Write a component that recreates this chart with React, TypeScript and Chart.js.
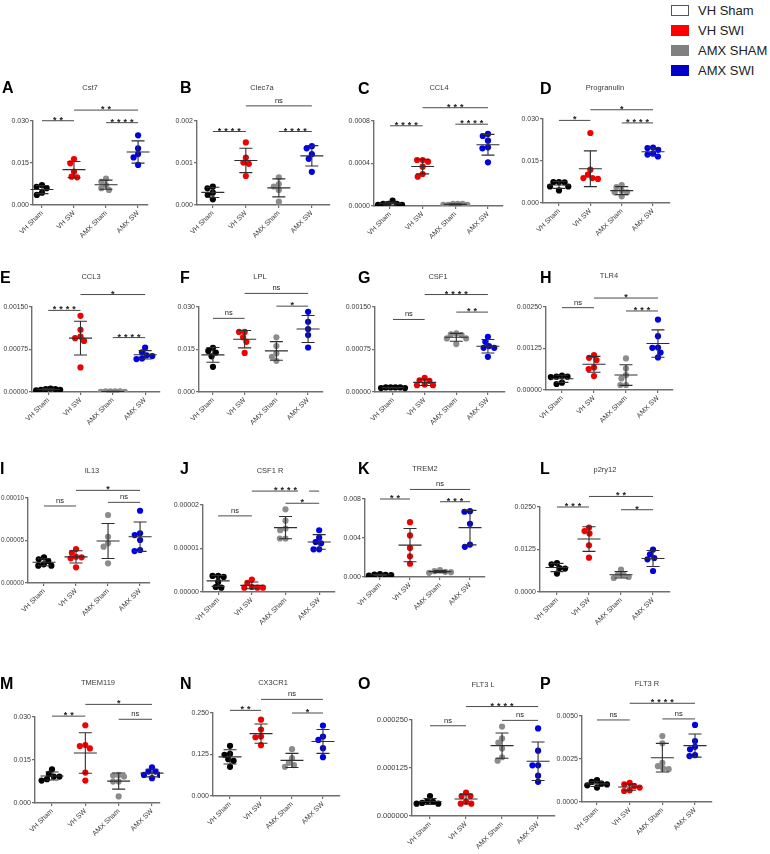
import React, { useEffect, useRef } from "react";
import { Chart, registerables } from "chart.js";
Chart.register(...registerables);

const groups = ["VH Sham", "VH SW", "AMX Sham", "AMX SW"];
const groupColors = ["#000000", "#f20000", "#8c8c8c", "#0000e6"];
const legendLabels = ["VH Sham", "VH SWI", "AMX SHAM", "AMX SWI"];
const legendColors = ["#ffffff", "#ff0000", "#808080", "#0000c8"];

// ---- values (per group: VH Sham, VH SW, AMX Sham, AMX SW) ----
const cst7 = [
  [0.0071, 0.0065, 0.006, 0.0044, 0.0036],
  [0.0164, 0.0149, 0.0119, 0.0101, 0.0099],
  [0.0094, 0.0083, 0.0071, 0.006, 0.0054],
  [0.0249, 0.0202, 0.0182, 0.017, 0.0143],
];
const cst7Ticks = ["0.000", "0.015", "0.030"];
const cst7Sig = [[1, 2, 0.0301, "**"], [2, 4, 0.0339, "**"], [3, 4, 0.0294, "****"]];

const clec7a = [
  [0.000436, 0.000397, 0.000293, 0.000238, 0.000135],
  [0.00149, 0.00113, 0.00101, 0.00098, 0.00069],
  [0.00066, 0.0005, 0.00044, 0.00036, 0.00008],
  [0.0014, 0.00135, 0.00121, 0.0011, 0.00079],
];
const clec7aTicks = ["0.000", "0.001", "0.002"];
const clec7aSig = [[1, 2, 0.00175, "****"], [2, 4, 0.00236, "ns"], [3, 4, 0.00175, "****"]];

const ccl4 = [
  [0.00002, 0.00002, 0.00001, 0.00005, 0.00002, 0.00001],
  [0.000433, 0.000417, 0.000433, 0.00037, 0.000301, 0.000276],
  [0.00002, 0.00001, 0.00002, 0.00001, 0.00002, 0.00001],
  [0.000678, 0.000659, 0.000615, 0.000552, 0.000543, 0.000411],
];
const ccl4Ticks = ["0.0000", "0.0004", "0.0008"];
const ccl4Sig = [[1, 2, 0.000755, "****"], [2, 4, 0.000925, "***"], [3, 4, 0.00077, "****"]];

const progranulin = [
  [0.0074, 0.0075, 0.0075, 0.0059, 0.0059, 0.0045],
  [0.025, 0.0119, 0.0101, 0.0089, 0.0089, 0.0086],
  [0.0057, 0.0064, 0.0038, 0.0038, 0.0044, 0.0024],
  [0.0196, 0.0198, 0.019, 0.0176, 0.0173, 0.0166],
];
const progranulinTicks = ["0.000", "0.015", "0.030"];
const progranulinSig = [[1, 2, 0.0295, "*"], [2, 4, 0.0333, "*"], [3, 4, 0.0286, "****"]];

const ccl3 = [
  [0.00005, 0.00005, 0.00004, 0.00006, 0.00004, 0.00003],
  [0.001345, 0.001097, 0.000978, 0.000949, 0.000901, 0.000434],
  [0.00001, 0.000003, 0.00001, 0.000003, 0.00001, 0.00001],
  [0.000782, 0.0007, 0.000647, 0.000634, 0.000593, 0.000581],
];
const ccl3Ticks = ["0.00000", "0.00075", "0.00150"];
const ccl3Sig = [[1, 2, 0.00144, "****"], [2, 4, 0.00172, "*"], [3, 4, 0.00096, "****"]];

const lpl = [
  [0.0156, 0.0145, 0.0139, 0.0126, 0.0089],
  [0.0212, 0.0212, 0.0193, 0.0177, 0.0138],
  [0.0193, 0.0162, 0.0136, 0.0124, 0.011],
  [0.0283, 0.0248, 0.0222, 0.0201, 0.0157],
];
const lplTicks = ["0.000", "0.015", "0.030"];
const lplSig = [[1, 2, 0.026, "ns"], [2, 4, 0.0348, "ns"], [3, 4, 0.0303, "*"]];

const csf1 = [
  [0.00008, 0.00008, 0.00007, 0.00008, 0.00008, 0.00007],
  [0.000207, 0.000195, 0.000248, 0.000131, 0.000119, 0.000119],
  [0.001017, 0.001004, 0.001034, 0.000946, 0.000946, 0.000845],
  [0.000974, 0.000886, 0.00081, 0.000779, 0.000779, 0.00062],
];
const csf1Ticks = ["0.00000", "0.00075", "0.00150"];
const csf1Sig = [[1, 2, 0.00128, "ns"], [2, 4, 0.00172, "****"], [3, 4, 0.00141, "**"]];

const tlr4 = [
  [0.0004, 0.00039, 0.0004, 0.00043, 0.00022, 0.00018],
  [0.00105, 0.00097, 0.0009, 0.00068, 0.00063, 0.00042],
  [0.00095, 0.00065, 0.00045, 0.00035, 0.00015, 0.00015],
  [0.00212, 0.00162, 0.00128, 0.00127, 0.00113, 0.00098],
];
const tlr4Ticks = ["0.00000", "0.00125", "0.00250"];
const tlr4Sig = [[1, 2, 0.00248, "ns"], [2, 4, 0.00277, "*"], [3, 4, 0.00238, "***"]];

const il13 = [
  [0.0000259, 0.0000279, 0.0000302, 0.000022, 0.0000204, 0.0000204],
  [0.00004, 0.0000356, 0.0000309, 0.0000302, 0.000029, 0.0000185],
  [0.00008, 0.0000544, 0.0000467, 0.0000427, 0.0000232],
  [0.000085, 0.0000584, 0.0000564, 0.0000506, 0.0000388, 0.0000376],
];
const il13Ticks = ["0.00000", "0.00005", "0.00010"];
const il13Sig = [[1, 2, 0.0000906, "ns"], [2, 4, 0.000109, "*"], [3, 4, 0.0000949, "ns"]];

const csf1r = [
  [3.46e-6, 3.69e-6, 3.69e-6, 2.31e-6, 1.15e-6, 1.0e-6],
  [2.86e-6, 2.08e-6, 1.15e-6, 1.0e-6, 1.0e-6, 1.0e-6],
  [1.9e-5, 1.64e-5, 1.46e-5, 1.42e-5, 1.23e-5, 1.23e-5],
  [1.42e-5, 1.25e-5, 1.15e-5, 1.12e-5, 9.8e-6, 9.8e-6],
];
const csf1rTicks = ["0.00000", "0.00001", "0.00002"];
const csf1rSig = [[1, 2, 1.75e-5, "ns"], [2, 3.37, 2.32e-5, "****", 3], [3.7, 4, 2.32e-5, ""], [3, 4, 2.04e-5, "*"]];

const trem2 = [
  [0.0003, 0.00025, 0.00022, 0.0002, 0.00015],
  [0.00562, 0.00426, 0.00298, 0.00212, 0.00136],
  [0.0007, 0.0006, 0.00053, 0.0005, 0.00043],
  [0.00675, 0.00669, 0.00546, 0.00333, 0.0031],
];
const trem2Ticks = ["0.000", "0.004", "0.008"];
const trem2Sig = [[1, 2, 0.008, "**"], [2, 4, 0.00898, "ns"], [3, 4, 0.00772, "***"]];

const p2ry12 = [
  [0.00853, 0.00814, 0.00706, 0.00688, 0.00541],
  [0.01893, 0.01793, 0.01717, 0.01373, 0.01011],
  [0.00659, 0.00512, 0.0052, 0.00441, 0.00412],
  [0.01247, 0.01108, 0.01, 0.00961, 0.00617],
];
const p2ry12Ticks = ["0.0000", "0.0125", "0.0250"];
const p2ry12Sig = [[1, 2, 0.025, "***"], [2, 4, 0.0281, "**"], [3, 4, 0.0242, "*"]];

const tmem119 = [
  [0.00921, 0.00921, 0.01178, 0.01015, 0.00831, 0.00783],
  [0.02712, 0.0202, 0.01985, 0.01905, 0.0106, 0.00783],
  [0.00921, 0.00956, 0.0098, 0.00748, 0.00748, 0.00229],
  [0.01095, 0.01095, 0.01247, 0.0098, 0.0098, 0.00866],
];
const tmem119Ticks = ["0.000", "0.015", "0.030"];
const tmem119Sig = [[1, 2, 0.0303, "**"], [2, 4, 0.0344, "*"], [3, 4, 0.0292, "ns"]];

const cx3cr1 = [
  [0.151, 0.127, 0.124, 0.111, 0.106, 0.088],
  [0.23, 0.2, 0.179, 0.177, 0.153],
  [0.141, 0.114, 0.1, 0.093, 0.088],
  [0.212, 0.179, 0.169, 0.144, 0.117],
];
const cx3cr1Ticks = ["0.000", "0.125", "0.250"];
const cx3cr1Sig = [[1, 2, 0.258, "**"], [2, 4, 0.291, "ns"], [3, 4, 0.25, "*"]];

const flt3l = [
  [5.2e-5, 3.9e-5, 3.7e-5, 3.4e-5, 3.2e-5, 3.2e-5],
  [6.1e-5, 5.2e-5, 5.2e-5, 3.7e-5, 3.2e-5, 3.2e-5],
  [2.33e-4, 2.02e-4, 1.91e-4, 1.76e-4, 1.53e-4, 1.44e-4],
  [2.28e-4, 1.7e-4, 1.32e-4, 1.32e-4, 1.05e-4, 8.9e-5],
];
const flt3lTicks = ["0.000000", "0.000125", "0.000250"];
const flt3lSig = [[1, 2, 0.000235, "ns"], [2, 4, 0.000285, "****"], [3, 4, 0.000249, "ns"]];

const flt3r = [
  [0.00107, 0.00117, 0.00127, 0.00102, 0.00097, 0.00084],
  [0.00092, 0.00102, 0.00111, 0.00084, 0.00068, 0.00064],
  [0.00383, 0.00341, 0.00228, 0.00208, 0.00195, 0.00191],
  [0.00448, 0.00354, 0.00321, 0.00306, 0.00272, 0.00267],
];
const flt3rTicks = ["0.0000", "0.0025", "0.0050"];
const flt3rSig = [[1, 2, 0.00477, "ns"], [2, 4, 0.00574, "****"], [3, 4, 0.00483, "ns"]];

// ---- layout (pixel geometry of each panel) ----
const layouts: Record<string, any> = {
  A: { ax: 33, ae: 148, pt: 121, pb: 205, xr: [0.72, 4.31], lx: 2, ly: 82, tx: 90, ty: 88, tf: 7 },
  B: { ax: 197, ae: 330, pt: 121, pb: 205, xr: [0.52, 4.55], lx: 180, ly: 82, tx: 262, ty: 88, tf: 7 },
  C: { ax: 374, ae: 503, pt: 121, pb: 206, xr: [0.51, 4.46], lx: 358, ly: 83, tx: 439, ty: 88, tf: 7 },
  D: { ax: 543, ae: 670, pt: 119, pb: 203, xr: [0.49, 4.54], lx: 540, ly: 83, tx: 605, ty: 88, tf: 7 },
  E: { ax: 32, ae: 160, pt: 307, pb: 392, xr: [0.5, 4.46], lx: 0, ly: 272, tx: 91, ty: 277, tf: 6.8 },
  F: { ax: 199, ae: 323, pt: 307, pb: 392, xr: [0.56, 4.47], lx: 180, ly: 272, tx: 260, ty: 277, tf: 7 },
  G: { ax: 375, ae: 505, pt: 307, pb: 392, xr: [0.43, 4.54], lx: 358, ly: 272, tx: 438, ty: 277, tf: 7 },
  H: { ax: 546, ae: 673, pt: 307, pb: 390, xr: [0.5, 4.47], lx: 540, ly: 272, tx: 609, ty: 276, tf: 7 },
  I: { ax: 28, ae: 150, pt: 498, pb: 583, xr: [0.5, 4.31], lx: 0, ly: 463, tx: 92, ty: 471, tf: 6.4 },
  J: { ax: 203, ae: 335, pt: 505, pb: 592, xr: [0.55, 4.47], lx: 180, ly: 463, tx: 270, ty: 471, tf: 7 },
  K: { ax: 365, ae: 485, pt: 499, pb: 577, xr: [0.5, 4.5], lx: 358, ly: 463, tx: 425, ty: 469, tf: 7 },
  L: { ax: 540, ae: 670, pt: 507, pb: 592, xr: [0.47, 4.53], lx: 540, ly: 463, tx: 605, ty: 470, tf: 7 },
  M: { ax: 35, ae: 160, pt: 717, pb: 803, xr: [0.49, 4.24], lx: 0, ly: 678, tx: 98, ty: 683, tf: 7 },
  N: { ax: 213, ae: 340, pt: 713, pb: 796, xr: [0.45, 4.55], lx: 180, ly: 678, tx: 273, ty: 683, tf: 7 },
  O: { ax: 412, ae: 555, pt: 720, pb: 816, xr: [0.5, 4.47], lx: 358, ly: 678, tx: 483, ty: 685, tf: 7.5 },
  P: { ax: 582, ae: 712, pt: 716, pb: 802, xr: [0.54, 4.52], lx: 540, ly: 678, tx: 647, ty: 684, tf: 7 },
};

const panels = [
  { letter: "A", title: "Cst7", values: cst7, ticks: cst7Ticks, sig: cst7Sig },
  { letter: "B", title: "Clec7a", values: clec7a, ticks: clec7aTicks, sig: clec7aSig },
  { letter: "C", title: "CCL4", values: ccl4, ticks: ccl4Ticks, sig: ccl4Sig },
  { letter: "D", title: "Progranulin", values: progranulin, ticks: progranulinTicks, sig: progranulinSig },
  { letter: "E", title: "CCL3", values: ccl3, ticks: ccl3Ticks, sig: ccl3Sig },
  { letter: "F", title: "LPL", values: lpl, ticks: lplTicks, sig: lplSig },
  { letter: "G", title: "CSF1", values: csf1, ticks: csf1Ticks, sig: csf1Sig },
  { letter: "H", title: "TLR4", values: tlr4, ticks: tlr4Ticks, sig: tlr4Sig },
  { letter: "I", title: "IL13", values: il13, ticks: il13Ticks, sig: il13Sig },
  { letter: "J", title: "CSF1 R", values: csf1r, ticks: csf1rTicks, sig: csf1rSig },
  { letter: "K", title: "TREM2", values: trem2, ticks: trem2Ticks, sig: trem2Sig },
  { letter: "L", title: "p2ry12", values: p2ry12, ticks: p2ry12Ticks, sig: p2ry12Sig },
  { letter: "M", title: "TMEM119", values: tmem119, ticks: tmem119Ticks, sig: tmem119Sig },
  { letter: "N", title: "CX3CR1", values: cx3cr1, ticks: cx3cr1Ticks, sig: cx3cr1Sig },
  { letter: "O", title: "FLT3 L", values: flt3l, ticks: flt3lTicks, sig: flt3lSig },
  { letter: "P", title: "FLT3 R", values: flt3r, ticks: flt3rTicks, sig: flt3rSig },
];

const FONT = "'Liberation Sans', Arial, sans-serif";
const YW = 50;
const PAD_TOP = 42;
const PAD_R = 10;
const XH = 50;
const AXIS = "#6e6e6e";
const TEXT = "#3a3a3a";

// deterministic beeswarm spread (in pixels)
function swarm(ys: number[], d: number, maxHalf: number): number[] {
  const order = ys.map((_, i) => i).sort((a, b) => ys[b] - ys[a]);
  const placed: { x: number; y: number }[] = [];
  const out = new Array(ys.length).fill(0);
  for (const i of order) {
    const y = ys[i];
    const cands = [0];
    for (const q of placed) {
      const dy = Math.abs(q.y - y);
      if (dy < d) {
        const w = Math.sqrt(d * d - dy * dy);
        cands.push(q.x - w - 0.01, q.x + w + 0.01);
      }
    }
    cands.sort((a, b) => Math.abs(a) - Math.abs(b) || a - b);
    let chosen = 0;
    for (const c of cands) {
      if (placed.every((q) => (q.x - c) ** 2 + (q.y - y) ** 2 >= d * d - 1e-6)) {
        chosen = c;
        break;
      }
    }
    placed.push({ x: chosen, y });
    out[i] = chosen;
  }
  const mn = Math.min(...out), mx = Math.max(...out);
  if (mx - mn > 2 * maxHalf) {
    const c = (mx + mn) / 2;
    const k = (2 * maxHalf) / (mx - mn);
    return out.map((o) => (o - c) * k);
  }
  return out;
}

function statsPlugin(p: any) {
  return {
    id: "stats" + p.letter,
    afterDatasetsDraw(chart: any) {
      const ctx = chart.ctx;
      const xs = chart.scales.x;
      const ys = chart.scales.y;
      ctx.save();
      ctx.strokeStyle = "#2e2e2e";
      ctx.lineWidth = 1.1;
      p.values.forEach((vals: number[], gi: number) => {
        const n = vals.length;
        const m = vals.reduce((a, b) => a + b, 0) / n;
        const sd = Math.sqrt(vals.reduce((a, b) => a + (b - m) ** 2, 0) / (n - 1));
        const cx = xs.getPixelForValue(gi + 1);
        const yM = ys.getPixelForValue(m);
        const yT = ys.getPixelForValue(m + sd);
        const yB = ys.getPixelForValue(m - sd);
        ctx.beginPath();
        ctx.moveTo(cx, yT);
        ctx.lineTo(cx, yB);
        ctx.moveTo(cx - 11.5, yM);
        ctx.lineTo(cx + 11.5, yM);
        ctx.moveTo(cx - 6.5, yT);
        ctx.lineTo(cx + 6.5, yT);
        ctx.moveTo(cx - 6.5, yB);
        ctx.lineTo(cx + 6.5, yB);
        ctx.stroke();
      });
      // significance brackets
      ctx.strokeStyle = "#4a4a4a";
      ctx.lineWidth = 1;
      ctx.fillStyle = "#222";
      ctx.textAlign = "center";
      ctx.textBaseline = "alphabetic";
      p.sig.forEach((s: any[]) => {
        const [a, b, y, label, lx] = s;
        const x1 = xs.getPixelForValue(a);
        const x2 = xs.getPixelForValue(b);
        const yy = ys.getPixelForValue(y);
        ctx.beginPath();
        ctx.moveTo(x1, yy);
        ctx.lineTo(x2, yy);
        ctx.stroke();
        if (!label) return;
        const cx = xs.getPixelForValue(lx !== undefined ? lx : (a + b) / 2);
        if (label === "ns") {
          ctx.font = `7.5px ${FONT}`;
          ctx.fillText("ns", cx, yy - 3);
        } else {
          ctx.font = `bold 9px ${FONT}`;
          const nn = label.length;
          for (let i = 0; i < nn; i++) {
            ctx.fillText("*", cx + (i - (nn - 1) / 2) * 6.5, yy + 2);
          }
        }
      });
      ctx.restore();
    },
  };
}

function Panel({ p }: { p: any }) {
  const ref = useRef<HTMLCanvasElement | null>(null);
  const L = layouts[p.letter];
  const w = L.ae - L.ax + YW + PAD_R;
  const h = L.pb - L.pt + PAD_TOP + XH;
  useEffect(() => {
    const yMax = parseFloat(p.ticks[p.ticks.length - 1]);
    const plotW = L.ae - L.ax;
    const plotH = L.pb - L.pt;
    const [xMin, xMax] = L.xr;
    const pxX = plotW / (xMax - xMin);
    const pxY = plotH / yMax;
    const datasets = p.values.map((vals: number[], gi: number) => {
      const offs = swarm(vals.map((v) => v * pxY), 5.6, 12);
      return {
        label: groups[gi],
        data: vals.map((v, i) => ({ x: gi + 1 + offs[i] / pxX, y: v })),
        backgroundColor: groupColors[gi],
        borderWidth: 0,
        pointRadius: 3.1,
        pointHoverRadius: 3.1,
      };
    });
    const tickFont = { family: FONT, size: L.tf };
    const xFont = { family: FONT, size: 7 };
    const chart = new Chart(ref.current as HTMLCanvasElement, {
      type: "scatter",
      data: { datasets },
      options: {
        animation: false,
        responsive: false,
        events: [],
        layout: { padding: { top: PAD_TOP, right: PAD_R, left: 0, bottom: 0 } },
        plugins: { legend: { display: false }, tooltip: { enabled: false }, title: { display: false } },
        scales: {
          x: {
            type: "linear",
            min: xMin,
            max: xMax,
            afterBuildTicks: (s: any) => {
              s.ticks = groups.map((_, i) => ({ value: i + 1 }));
            },
            afterFit: (s: any) => {
              s.height = XH;
              s.paddingLeft = 0;
              s.paddingRight = 0;
            },
            ticks: {
              autoSkip: false,
              minRotation: 45,
              maxRotation: 45,
              padding: 1,
              font: xFont,
              color: TEXT,
              callback: (v: any) => groups[Math.round(v) - 1] ?? "",
            },
            grid: { display: true, drawOnChartArea: false, drawTicks: true, tickLength: 3, color: AXIS, lineWidth: 1.2 },
            border: { display: true, color: AXIS, width: 1.4 },
          },
          y: {
            type: "linear",
            min: 0,
            max: yMax,
            afterBuildTicks: (s: any) => {
              s.ticks = p.ticks.map((t: string) => ({ value: parseFloat(t) }));
            },
            afterFit: (s: any) => {
              s.width = YW;
              s.paddingTop = 0;
              s.paddingBottom = 0;
            },
            ticks: {
              font: tickFont,
              color: TEXT,
              padding: 1,
              callback: (_v: any, i: number) => p.ticks[i],
            },
            grid: { display: true, drawOnChartArea: false, drawTicks: true, tickLength: 3, color: AXIS, lineWidth: 1.2 },
            border: { display: true, color: AXIS, width: 1.4 },
          },
        },
      } as any,
      plugins: [statsPlugin(p)],
    });
    return () => chart.destroy();
  }, []);
  return (
    <>
      <canvas
        ref={ref}
        width={w}
        height={h}
        style={{ position: "absolute", left: L.ax - YW, top: L.pt - PAD_TOP, width: w, height: h }}
      />
      <div
        style={{
          position: "absolute",
          left: L.lx,
          top: L.ly - 2,
          font: `bold 16px ${FONT}`,
          lineHeight: "16px",
          color: "#000",
        }}
      >
        {p.letter}
      </div>
      <div
        style={{
          position: "absolute",
          left: L.tx - 50,
          top: L.ty - 5,
          width: 100,
          textAlign: "center",
          font: `7.5px ${FONT}`,
          lineHeight: "10px",
          color: TEXT,
        }}
      >
        {p.title}
      </div>
    </>
  );
}

export default function App() {
  return (
    <div
      style={{
        position: "fixed",
        left: 0,
        top: 0,
        width: 770,
        height: 854,
        background: "#ffffff",
        overflow: "hidden",
        fontFamily: FONT,
      }}
    >
      {legendLabels.map((lab, i) => (
        <React.Fragment key={lab}>
          <div
            style={{
              position: "absolute",
              left: 671,
              top: 11 + i * 20 - 6,
              width: 18,
              height: 11,
              boxSizing: "border-box",
              background: legendColors[i],
              border: i === 0 ? "1px solid #555" : "none",
            }}
          />
          <div
            style={{
              position: "absolute",
              left: 698,
              top: 11 + i * 20 - 8,
              font: `13px ${FONT}`,
              lineHeight: "16px",
              color: "#222",
              whiteSpace: "nowrap",
            }}
          >
            {lab}
          </div>
        </React.Fragment>
      ))}
      {panels.map((p) => (
        <Panel key={p.letter} p={p} />
      ))}
    </div>
  );
}
